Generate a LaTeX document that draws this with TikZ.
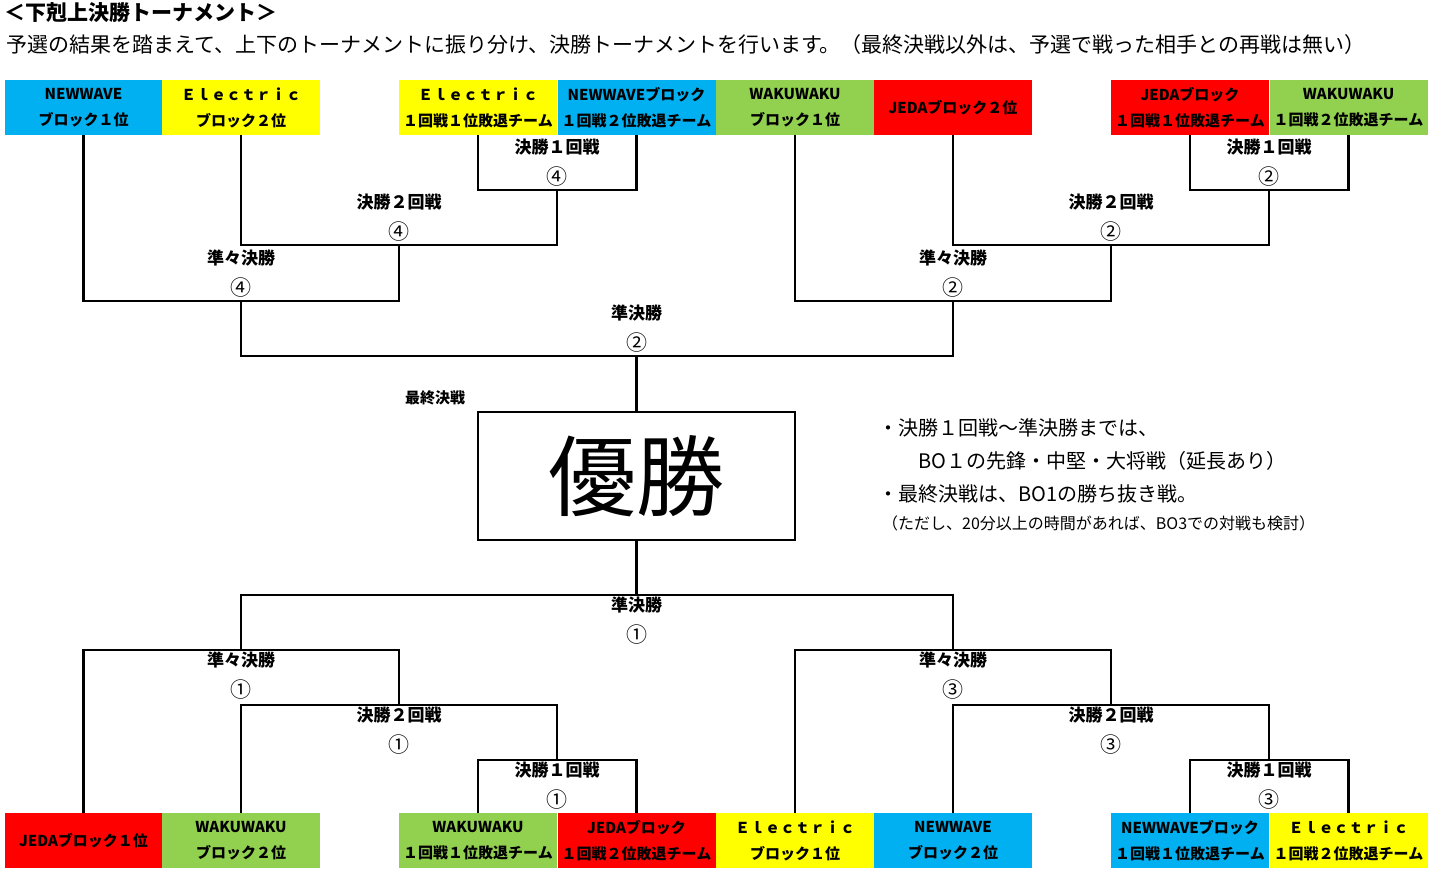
\documentclass[tikz,border=0pt]{standalone}
\usepackage{fontspec}
\setmainfont{Noto Sans CJK JP}

\definecolor{newwave}{HTML}{00B0F0}
\definecolor{electric}{HTML}{FFFF00}
\definecolor{wakuwaku}{HTML}{92D050}
\definecolor{jeda}{HTML}{FF0000}

\tikzset{
  team/.style={fill=#1, minimum width=158pt, minimum height=55pt, inner sep=0pt, align=center, font=\bfseries\fontsize{15}{26}\selectfont},
  wire/.style={line width=2.5pt},
  rnd/.style={inner sep=0pt, font=\bfseries\fontsize{17}{17}\selectfont},
  num/.style={inner sep=0pt, font=\fontsize{21}{21}\selectfont},
  note/.style={anchor=west, inner sep=0pt, font=\fontsize{20}{20}\selectfont}
}

\begin{document}
\begin{tikzpicture}[x=1pt, y=-1pt]
  \useasboundingbox (0,0) rectangle (1431,870);
  % Heading
  \node[anchor=west, inner sep=0pt, font=\bfseries\fontsize{21}{21}\selectfont] (title) at (4,13) {＜下剋上決勝トーナメント＞};
  \node[anchor=west, inner sep=0pt, font=\fontsize{21}{21}\selectfont] (intro) at (6,45) {予選の結果を踏まえて、上下のトーナメントに振り分け、決勝トーナメントを行います。（最終決戦以外は、予選で戦った相手との再戦は無い）};
  % Upper teams
  \node[team=newwave] (t1) at (83.5,107.5) {NEWWAVE\\ブロック１位};
  \node[team=electric] (t2) at (241,107.5) {Ｅｌｅｃｔｒｉｃ\\ブロック２位};
  \node[team=electric] (t3) at (478,107.5) {Ｅｌｅｃｔｒｉｃ\\１回戦１位敗退チーム};
  \node[team=newwave] (t4) at (636.5,107.5) {NEWWAVEブロック\\１回戦２位敗退チーム};
  \node[team=wakuwaku] (t5) at (795,107.5) {WAKUWAKU\\ブロック１位};
  \node[team=jeda] (t6) at (953,107.5) {JEDAブロック２位};
  \node[team=jeda] (t7) at (1190,107.5) {JEDAブロック\\１回戦１位敗退チーム};
  \node[team=wakuwaku] (t8) at (1348.5,107.5) {WAKUWAKU\\１回戦２位敗退チーム};
  % Lower teams
  \node[team=jeda] (b1) at (83.5,840.5) {JEDAブロック１位};
  \node[team=wakuwaku] (b2) at (241,840.5) {WAKUWAKU\\ブロック２位};
  \node[team=wakuwaku] (b3) at (478,840.5) {WAKUWAKU\\１回戦１位敗退チーム};
  \node[team=jeda] (b4) at (636.5,840.5) {JEDAブロック\\１回戦２位敗退チーム};
  \node[team=electric] (b5) at (795,840.5) {Ｅｌｅｃｔｒｉｃ\\ブロック１位};
  \node[team=newwave] (b6) at (953,840.5) {NEWWAVE\\ブロック２位};
  \node[team=newwave] (b7) at (1190,840.5) {NEWWAVEブロック\\１回戦１位敗退チーム};
  \node[team=electric] (b8) at (1348.5,840.5) {Ｅｌｅｃｔｒｉｃ\\１回戦２位敗退チーム};
  % Final
  \node[draw, line width=2pt, minimum width=317pt, minimum height=128pt, inner sep=0pt, font=\fontsize{88}{88}\selectfont] (win) at (636.5,476) {優勝};
  \node[inner sep=0pt, font=\bfseries\fontsize{15}{15}\selectfont] (final) at (435,398) {最終決戦};
  % Match points
  \coordinate (j1a) at (557,190);
  \coordinate (j2a) at (399,245);
  \coordinate (j3a) at (241,301);
  \coordinate (sf2) at (636.5,356);
  \coordinate (j3b) at (953,301);
  \coordinate (j2b) at (1111,245);
  \coordinate (j1b) at (1269,190);
  \coordinate (sf1) at (636.5,595);
  \coordinate (k3a) at (241,650);
  \coordinate (k2a) at (399,705);
  \coordinate (k1a) at (557,760);
  \coordinate (k3b) at (953,650);
  \coordinate (k2b) at (1111,705);
  \coordinate (k1b) at (1269,760);
  % Upper bracket
  \draw[wire] (t3.south) |- (j1a) -| (t4.south);
  \draw[wire] (t2.south) |- (j2a) -| (j1a);
  \draw[wire] (t1.south) |- (j3a) -| (j2a);
  \draw[wire] (t7.south) |- (j1b) -| (t8.south);
  \draw[wire] (t6.south) |- (j2b) -| (j1b);
  \draw[wire] (t5.south) |- (j3b) -| (j2b);
  \draw[wire] (j3a) |- (sf2) -| (j3b);
  \draw[wire] (sf2) -- (win.north);
  % Lower bracket
  \draw[wire] (win.south) -- (sf1);
  \draw[wire] (k3a) |- (sf1) -| (k3b);
  \draw[wire] (b1.north) |- (k3a) -| (k2a);
  \draw[wire] (b2.north) |- (k2a) -| (k1a);
  \draw[wire] (b3.north) |- (k1a) -| (b4.north);
  \draw[wire] (b5.north) |- (k3b) -| (k2b);
  \draw[wire] (b6.north) |- (k2b) -| (k1b);
  \draw[wire] (b7.north) |- (k1b) -| (b8.north);
  % Match labels
  \foreach \j/\t/\n in {j1a/決勝１回戦/④, j2a/決勝２回戦/④, j3a/準々決勝/④, sf2/準決勝/②, j1b/決勝１回戦/②, j2b/決勝２回戦/②, j3b/準々決勝/②}
  {
    \node[rnd] (\j-t) at ([yshift=43pt]\j) {\t};
    \node[num] (\j-n) at ([yshift=13pt]\j) {\n};
  }
  \foreach \j/\t/\n in {sf1/準決勝/①, k3a/準々決勝/①, k2a/決勝２回戦/①, k1a/決勝１回戦/①, k3b/準々決勝/③, k2b/決勝２回戦/③, k1b/決勝１回戦/③}
  {
    \node[rnd] (\j-t) at ([yshift=-10pt]\j) {\t};
    \node[num] (\j-n) at ([yshift=-40pt]\j) {\n};
  }
  % Rules
  \node[note] (note1) at (878,428) {・決勝１回戦～準決勝までは、};
  \node[note] (note2) at (918,461) {BO１の先鋒・中堅・大将戦（延長あり）};
  \node[note] (note3) at (878,494) {・最終決戦は、BO1の勝ち抜き戦。};
  \node[note, font=\fontsize{16}{16}\selectfont] (note4) at (882,523) {（ただし、20分以上の時間があれば、BO3での対戦も検討）};
\end{tikzpicture}
\end{document}
